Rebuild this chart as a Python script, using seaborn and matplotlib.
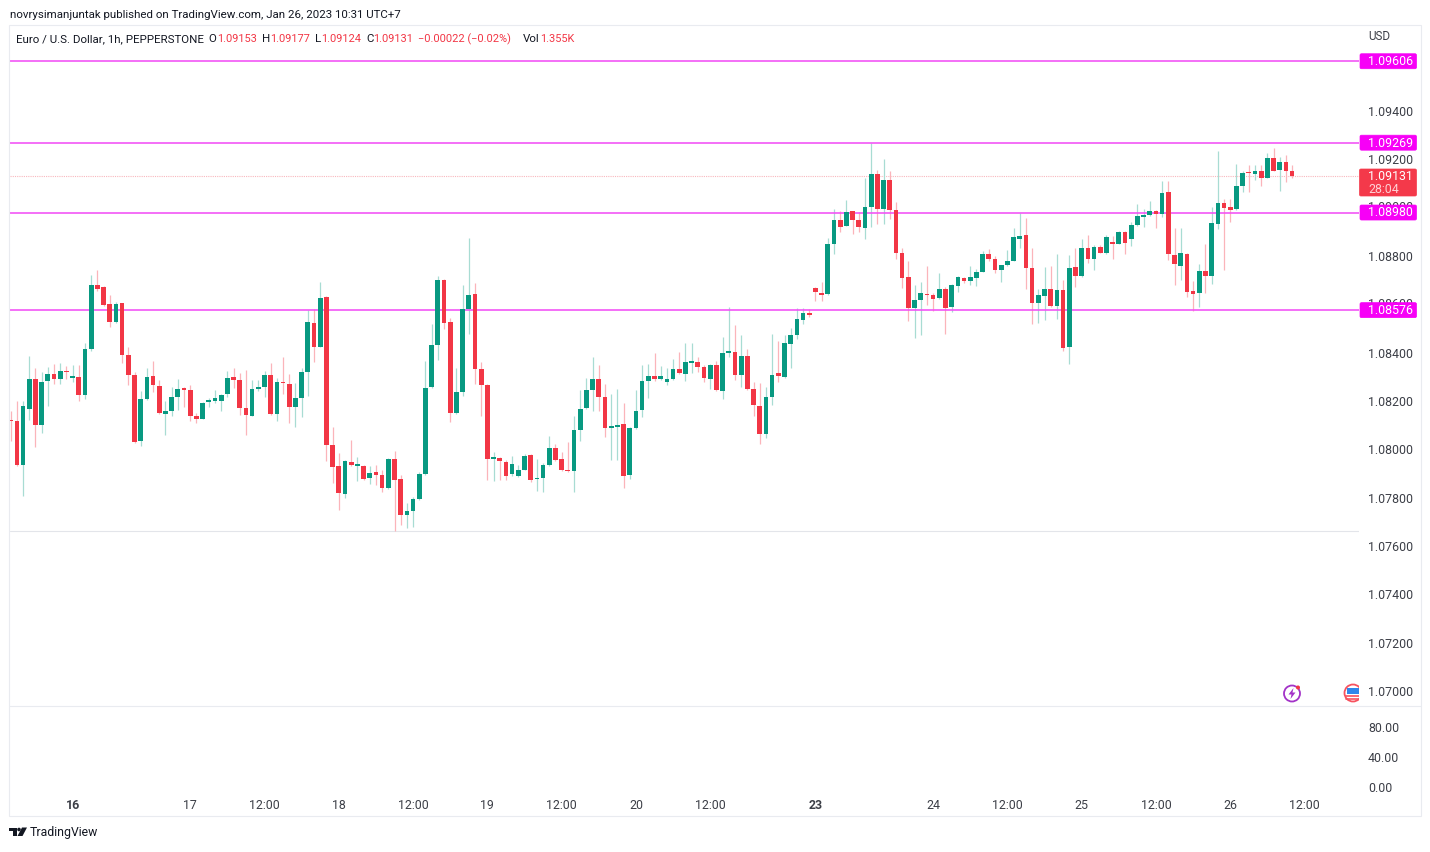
import numpy as np
import pandas as pd
import matplotlib
matplotlib.use("Agg")
import matplotlib.pyplot as plt
from matplotlib.patches import Rectangle, Circle, Polygon, FancyBboxPatch
import seaborn as sns

opens_pts = [
108120,108118,107934,108166,108293,108100,108282,108312,108293,108325,
108294,108300,108225,108414,108680,108671,108600,108529,108605,108392,
108308,108033,108209,108305,108264,108148,108158,108217,108254,108246,
108137,108127,108195,108200,108199,108229,108298,108285,108170,108140,
108249,108258,108308,108145,108280,108272,108176,108214,108322,108522,
108425,108631,108017,107929,107817,107949,107933,107933,107880,107907,
107893,107840,107962,107878,107730,107744,107795,107898,108256,108431,
108702,108526,108151,108239,108582,108642,108333,108268,107962,107966,
107949,107897,107891,107916,107976,107876,107880,107934,108005,107958,
107915,107912,108079,108170,108247,108293,108217,108090,108093,108103,
107893,108089,108163,108282,108305,108289,108280,108291,108334,108313,
108359,108363,108342,108290,108350,108243,108400,108404,108309,108386,
108250,108181,108063,108215,108314,108299,108436,108473,108537,108563,
108668,108648,108641,108848,108949,108925,108985,108948,108917,109004,
109138,108996,109116,108992,108812,108713,108586,108617,108644,108639,
108625,108662,108589,108677,108709,108698,108710,108735,108808,108788,
108743,108761,108781,108872,108885,108750,108604,108636,108663,108594,
108658,108423,108753,108716,108832,108786,108838,108812,108859,108851,
108898,108869,108927,108962,108969,108986,108972,109066,108805,108760,
108808,108655,108645,108738,108717,108932,109018,109004,108993,109089,
109147,109139,109151,109124,109205,109154,109189,109153]
highs_pts = [
108159,108200,108200,108387,108336,108318,108342,108352,108359,108345,
108349,108347,108442,108720,108742,108676,108640,108611,108607,108424,
108322,108243,108336,108367,108285,108200,108256,108290,108260,108268,
108149,108196,108211,108246,108227,108323,108338,108315,108329,108287,
108287,108323,108356,108294,108384,108311,108276,108337,108577,108580,
108694,108636,108091,107984,107956,108039,107970,107936,107933,107936,
107915,107965,107995,107894,107777,107802,107908,108367,108518,108718,
108704,108542,108338,108680,108873,108687,108360,108271,107991,107967,
107956,107973,107936,107981,107981,107959,107942,108057,108021,107991,
108032,108138,108246,108294,108382,108347,108271,108228,108249,108191,
108094,108246,108351,108353,108398,108345,108336,108372,108404,108439,
108441,108383,108349,108353,108367,108463,108590,108514,108473,108414,
108277,108273,108259,108476,108450,108473,108501,108583,108583,108579,
108670,108694,108873,108993,108986,109032,108986,108981,109123,109266,
109156,109203,109153,109023,108832,108778,108680,108691,108759,108645,
108730,108673,108684,108717,108714,108759,108745,108822,108829,108801,
108763,108825,108917,108979,108956,108832,108663,108756,108760,108807,
108699,108803,108832,108870,108887,108845,108845,108885,108882,108903,
108903,108939,109015,108996,109026,108990,109110,109111,108914,108918,
108811,108696,108769,108848,109004,109235,109034,109035,109180,109153,
109176,109178,109178,109227,109246,109208,109218,109177]
lows_pts = [
108036,107929,107807,108122,108011,108067,108181,108269,108271,108290,
108279,108200,108210,108405,108657,108594,108508,108522,108359,108265,
108028,108014,108205,108238,108147,108060,108140,108162,108174,108116,
108108,108125,108174,108191,108159,108218,108253,108142,108061,108138,
108243,108218,108142,108119,108229,108111,108091,108133,108222,108362,
108422,107951,107862,107747,107798,107931,107868,107873,107857,107854,
107824,107835,107662,107685,107673,107680,107791,107894,108253,108370,
108497,108115,108148,108222,108476,108269,108138,107873,107869,107873,
107873,107891,107887,107913,107864,107827,107825,107931,107953,107911,
107908,107825,108036,108167,108159,108160,108050,107956,107956,107839,
107876,108086,108133,108211,108283,108286,108268,108287,108310,108284,
108314,108321,108280,108248,108241,108207,108383,108287,108259,108245,
108139,108022,108045,108183,108277,108297,108337,108458,108519,108549,
108612,108615,108639,108807,108899,108924,108890,108899,108872,108920,
108931,108931,108954,108788,108666,108532,108462,108472,108597,108571,
108622,108476,108570,108651,108690,108679,108677,108732,108781,108728,
108694,108759,108778,108833,108663,108519,108521,108537,108590,108539,
108407,108352,108670,108712,108770,108742,108811,108809,108789,108848,
108808,108840,108924,108921,108965,108918,108960,108783,108680,108700,
108629,108573,108587,108645,108686,108910,108744,108942,108990,109064,
109064,109114,109091,109121,109150,109069,109107,109124]
closes_pts = [
108118,107937,108181,108293,108100,108280,108312,108290,108325,108320,
108304,108225,108414,108678,108665,108599,108529,108603,108392,108309,
108032,108210,108301,108268,108149,108158,108218,108251,108245,108137,
108127,108193,108205,108211,108224,108296,108285,108171,108141,108250,
108260,108309,108147,108280,108273,108174,108214,108322,108525,108425,
108628,108017,107927,107821,107952,107934,107938,107878,107901,107893,
107840,107962,107872,107730,107745,107795,107896,108254,108433,108700,
108523,108149,108238,108582,108640,108333,108267,107959,107967,107951,
107890,107938,107913,107974,107872,107882,107937,108005,107956,107913,
107909,108080,108167,108247,108289,108217,108089,108096,108101,107890,
108090,108160,108282,108305,108291,108305,108293,108334,108314,108361,
108364,108342,108294,108350,108244,108400,108405,108309,108386,108250,
108182,108065,108215,108309,108302,108439,108474,108538,108565,108554,
108652,108640,108850,108949,108921,108983,108948,108920,109004,109141,
108996,109116,108992,108811,108709,108586,108617,108648,108639,108622,
108662,108586,108681,108713,108698,108712,108735,108810,108786,108743,
108763,108781,108879,108884,108750,108605,108637,108663,108594,108658,
108421,108750,108717,108833,108789,108837,108813,108878,108851,108898,
108852,108927,108967,108969,108985,108972,109059,108809,108769,108812,
108653,108644,108738,108718,108936,109020,108998,108991,109091,109144,
109143,109151,109124,109206,109153,109189,109151,109131]

level_prices = [1.09606, 1.09269, 1.08980, 1.08576]
level_labels = ["1.09606", "1.09269", "1.08980", "1.08576"]
last_price = 1.09131
price_ticks = [1.07000, 1.07200, 1.07400, 1.07600, 1.07800, 1.08000, 1.08200, 1.08400,
               1.08800, 1.09200, 1.09400]
hidden_ticks = [1.08600, 1.09000]
volume_ticks = [0, 40, 80]
time_tick_bars = [10, 29, 41, 53, 65, 77, 89, 101, 113, 130, 149, 161, 173, 185, 197, 209]
time_tick_labels = ["16", "17", "12:00", "18", "12:00", "19", "12:00", "20", "12:00",
                    "23", "24", "12:00", "25", "12:00", "26", "12:00"]
bold_labels = ["16", "23"]

GREEN, RED = "#089981", "#f23645"
WICK_G, WICK_R = "#a8dcd3", "#fbb4ba"
MAGENTA = "#f700f7"
TXT = "#131722"
AXTXT = "#3c3f47"
TICK_PT = 8.95

sns.set_theme(style="white")
plt.rcParams["font.family"] = ["Roboto", "DejaVu Sans"]

W, H = 1430, 852
fig = plt.figure(figsize=(W / 100, H / 100), dpi=100, facecolor="white")

def rect(x0, y0, x1, y1):
    return [x0 / W, 1 - y1 / H, (x1 - x0) / W, (y1 - y0) / H]

df = pd.DataFrame({"bar": np.arange(len(opens_pts)),
                   "o": np.array(opens_pts) / 1e5, "h": np.array(highs_pts) / 1e5,
                   "l": np.array(lows_pts) / 1e5, "c": np.array(closes_pts) / 1e5})
df["up"] = df.c >= df.o
df["bottom"] = df[["o", "c"]].min(axis=1)
df["height"] = (df.c - df.o).abs()

ax = fig.add_axes(rect(10, 25, 1359, 705))
for lv in level_prices:
    ax.axhline(lv, color="#f24ff5", lw=1.15, zorder=2)
ax.axhline(last_price, color="#f9b7bd", lw=0.8, ls=(0, (1, 1)), zorder=1)
ax.axhline(1.07662, color="#e3e5ea", lw=0.8, zorder=1)

for up, wick, body in [(True, WICK_G, GREEN), (False, WICK_R, RED)]:
    sub = df[df.up == up]
    ax.vlines(sub.bar, sub.l, sub.h, color=wick, lw=0.9, zorder=1.5)
    sns.barplot(data=sub, x="bar", y="height", bottom=sub.bottom.values, native_scale=True,
                color=body, saturation=1, width=0.76, errorbar=None, linewidth=0,
                zorder=3, ax=ax)

ax.set_xlim(-0.113, 217.8)
ax.set_ylim(1.06942, 1.09756)
ax.set_xlabel("")
ax.set_ylabel("")
ax.set_xticks([])
ax.yaxis.tick_right()
ax.set_yticks(price_ticks)
ax.set_yticklabels([f"{v:.5f}" for v in price_ticks], fontsize=TICK_PT, color=AXTXT)
ax.tick_params(axis="y", length=0, pad=6.5)
sns.despine(ax=ax, left=True, bottom=True, right=True, top=True)
ax.patch.set_visible(False)

# lower (volume) pane, with the time scale under it
ax2 = fig.add_axes(rect(10, 705, 1359, 795))
ax2.set_xlim(-0.113, 217.8)
ax2.set_ylim(-10.67, 109.3)
ax2.yaxis.tick_right()
ax2.set_yticks(volume_ticks)
ax2.set_yticklabels([f"{v:.2f}" for v in volume_ticks], fontsize=TICK_PT, color=AXTXT)
ax2.set_xticks(time_tick_bars)
ax2.set_xticklabels(time_tick_labels, fontsize=TICK_PT, color=AXTXT)
for t in ax2.get_xticklabels():
    if t.get_text() in bold_labels:
        t.set_fontweight("bold")
ax2.tick_params(axis="y", length=0, pad=6.5)
ax2.tick_params(axis="x", length=0, pad=3)
sns.despine(ax=ax2, left=True, bottom=True, right=True, top=True)
ax2.patch.set_visible(False)

# overlay in pixel coordinates for frame, header, price tags, icons
ov = fig.add_axes([0, 0, 1, 1], zorder=10)
ov.set_xlim(0, W)
ov.set_ylim(H, 0)
ov.axis("off")
ov.patch.set_visible(False)

ov.add_patch(Rectangle((9, 25), 1411.5, 791, fill=False, ec="#e9ebf0", lw=0.8))
ov.plot([9, 1420.5], [705.5, 705.5], color="#e9ebf0", lw=0.8)

ov.text(10, 14.5, "novrysimanjuntak published on TradingView.com, Jan 26, 2023 10:31 UTC+7",
        fontsize=8.24, color=TXT, va="center", ha="left")
segments = [(16, "Euro / U.S. Dollar, 1h, PEPPERSTONE", TXT, 8.25), (208, "O", TXT, 8.25), (217, "1.09153", RED, 7.95),
            (262, "H", TXT, 8.25), (270, "1.09177", RED, 7.95), (315, "L", TXT, 8.25), (321, "1.09124", RED, 7.95),
            (366, "C", TXT, 8.25), (373, "1.09131", RED, 7.95), (418, "\u22120.00022 (\u22120.02%)", RED, 7.95),
            (523, "Vol", TXT, 8.25), (540, "1.355K", RED, 7.95)]
for x, s, c, fs in segments:
    ov.text(x, 39.5, s, fontsize=fs, color=c, va="center", ha="left")
ov.text(1368, 36.5, "USD", fontsize=8.4, color=AXTXT, va="center", ha="left")

def tag_y(price):
    return 25 + (1.09756 - price) * 680 / (1.09756 - 1.06942)

# tick labels that the price tags cover in the original
for hv in hidden_ticks:
    ov.text(1368, tag_y(hv), f"{hv:.5f}", fontsize=TICK_PT, color=AXTXT, va="center", ha="left")

for lv, lab in zip(level_prices, level_labels):
    y = tag_y(lv)
    ov.add_patch(FancyBboxPatch((1360, y - 7.5), 56.5, 15, boxstyle="round,pad=0,rounding_size=1.5",
                                fc=MAGENTA, ec=MAGENTA, lw=0.5, zorder=4))
    ov.text(1368, y + 0.4, lab, fontsize=TICK_PT, color="white", va="center", ha="left", zorder=5)

y = tag_y(last_price)
ov.add_patch(FancyBboxPatch((1359.5, 169), 57, 27, boxstyle="round,pad=0,rounding_size=1.5",
                            fc="#f4394a", ec="#f4394a", lw=0.5, zorder=4))
ov.text(1368, y + 0.5, "1.09131", fontsize=TICK_PT, color="white", va="center", ha="left", zorder=5)
ov.text(1368, 189.5, "28:04", fontsize=TICK_PT, color="#ffd0d4", va="center", ha="left", zorder=5)

# purple event icon
ov.add_patch(Circle((1292, 693.5), 8, fill=False, ec="#a333c8", lw=1.3))
ov.add_patch(Polygon([(1293.5, 688), (1288.5, 694.5), (1291.5, 694.5), (1290.5, 699),
                      (1295.5, 692.5), (1292.5, 692.5)], closed=True, fc="#a333c8", ec="none"))
ov.add_patch(Circle((1298, 687.5), 2, fc="#f23645", ec="none"))

# clipped flag icon
clip = Rectangle((1340, 680), 19, 30, transform=ov.transData)
flag = Circle((1353, 693), 8.5, fc="white", ec="#f7525f", lw=1.3)
ov.add_patch(flag)
flag.set_clip_path(clip)
for yy in (695.5, 699):
    st = ov.plot([1346, 1359], [yy, yy], color="#f7525f", lw=1.2)[0]
    st.set_clip_path(clip)
ov.add_patch(Rectangle((1347, 688), 12, 6, fc="#2f86eb", ec="none"))

# footer logo and word mark
ov.add_patch(Polygon([(9, 827.5), (16.5, 827.5), (16.5, 836), (13, 836), (13, 831), (9, 831)],
                     closed=True, fc=TXT, ec="none"))
ov.add_patch(Circle((19, 829.5), 1.8, fc=TXT, ec="none"))
ov.add_patch(Polygon([(22, 827.5), (27, 827.5), (22.5, 836), (17.5, 836)], closed=True, fc=TXT, ec="none"))
ov.text(30, 832.5, "TradingView", fontsize=8.85, color=TXT, va="center", ha="left")

fig.savefig("out.png", dpi=100, facecolor="white")
